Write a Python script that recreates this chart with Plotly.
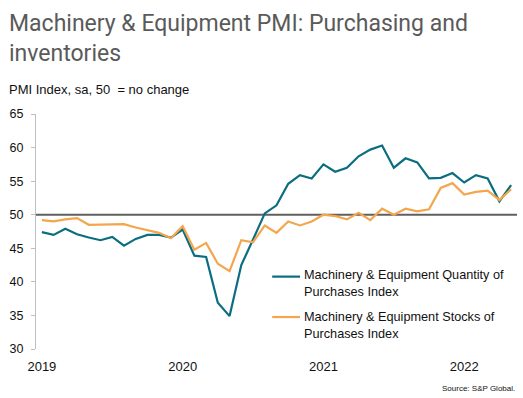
import plotly.graph_objects as go

months = list(range(41))  # Jan 2019 .. May 2022, monthly
quantity = [47.4, 47.0, 47.9, 47.1, 46.6, 46.2, 46.7, 45.4, 46.4, 47.0, 47.0, 46.6,
            47.8, 43.9, 43.7, 36.9, 34.9, 42.5, 46.3, 50.2, 51.4, 54.6, 55.9, 55.4,
            57.5, 56.4, 57.0, 58.7, 59.7, 60.3, 57.0, 58.4, 57.8, 55.4, 55.5, 56.2,
            54.8, 55.9, 55.4, 52.0, 54.4]
stocks = [49.2, 49.0, 49.3, 49.5, 48.5, 48.5, 48.5, 48.6, 48.1, 47.7, 47.3, 46.5,
          48.3, 44.8, 45.8, 42.7, 41.6, 46.2, 45.9, 48.4, 47.3, 49.0, 48.4, 49.0,
          50.0, 49.8, 49.3, 50.3, 49.2, 50.9, 50.0, 50.9, 50.5, 50.8, 54.0, 54.7,
          53.0, 53.4, 53.6, 52.2, 53.8]
tick_pos = [0, 12, 24, 36]
tick_labels = ["2019", "2020", "2021", "2022"]
y_ticks = [30, 35, 40, 45, 50, 55, 60, 65]

BLUE = "#0b6e80"
ORANGE = "#f3a64d"
FONT = "Liberation Sans, Arial, sans-serif"

fig = go.Figure()
fig.add_trace(go.Scatter(x=months, y=quantity, mode="lines",
                         line=dict(color=BLUE, width=2.2), showlegend=False))
fig.add_trace(go.Scatter(x=months, y=stocks, mode="lines",
                         line=dict(color=ORANGE, width=2.2), showlegend=False))

fig.add_shape(type="line", xref="paper", yref="y", x0=0, x1=1, y0=50, y1=50,
              line=dict(color="#5f5f5f", width=2), layer="below")

# legend drawn manually: (text, colour, line y, text top y) in paper units
leg = [("Machinery & Equipment Quantity of<br>Purchases Index", BLUE, 0.308, 0.352),
       ("Machinery & Equipment Stocks of<br>Purchases Index", ORANGE, 0.136, 0.173)]
for text, col, ly, ty in leg:
    fig.add_shape(type="line", xref="paper", yref="paper", x0=0.491, x1=0.549,
                  y0=ly, y1=ly, line=dict(color=col, width=2.2))
    fig.add_annotation(xref="paper", yref="paper", x=0.553, y=ty,
                       text=text, showarrow=False, xanchor="left", yanchor="top",
                       align="left", font=dict(family=FONT, size=12.7, color="#111111"))

fig.add_annotation(xref="paper", yref="paper", x=0.0, y=1.0, xshift=-29, yshift=106,
                   text="Machinery & Equipment PMI: Purchasing and<br>inventories",
                   showarrow=False, xanchor="left", yanchor="top", align="left",
                   font=dict(family="Roboto, Liberation Sans, sans-serif", size=23,
                             color="#5a5a5a"))
fig.add_annotation(xref="paper", yref="paper", x=0.0, y=1.0, xshift=-29, yshift=15,
                   text="PMI Index, sa, 50  = no change", showarrow=False,
                   xanchor="left", yanchor="bottom",
                   font=dict(family=FONT, size=13, color="#111111"))
fig.add_annotation(xref="paper", yref="paper", x=1.0, y=0, yshift=-46, xshift=0,
                   text="Source: S&P Global.", showarrow=False,
                   xanchor="right", yanchor="bottom",
                   font=dict(family=FONT, size=8, color="#111111"))

fig.update_layout(
    width=523, height=398,
    margin=dict(l=36, r=6, t=114, b=49),
    paper_bgcolor="white", plot_bgcolor="white",
    xaxis=dict(range=[-0.5, 40.5], tickmode="array", tickvals=tick_pos, ticktext=tick_labels,
               showgrid=False, showline=False, zeroline=False, ticks="",
               ticklabelstandoff=8,
               tickfont=dict(family=FONT, size=13, color="#111111")),
    yaxis=dict(range=[30, 65], tickmode="array", tickvals=y_ticks,
               showgrid=False, zeroline=False, showline=True, linecolor="#bfbfbf", linewidth=1,
               ticks="outside", ticklen=4, tickcolor="#bfbfbf", ticklabelstandoff=5,
               tickfont=dict(family=FONT, size=12.5, color="#111111")),
)

fig.write_html("out.html", config={"displayModeBar": False},
               post_script="document.body.style.margin='0';")
